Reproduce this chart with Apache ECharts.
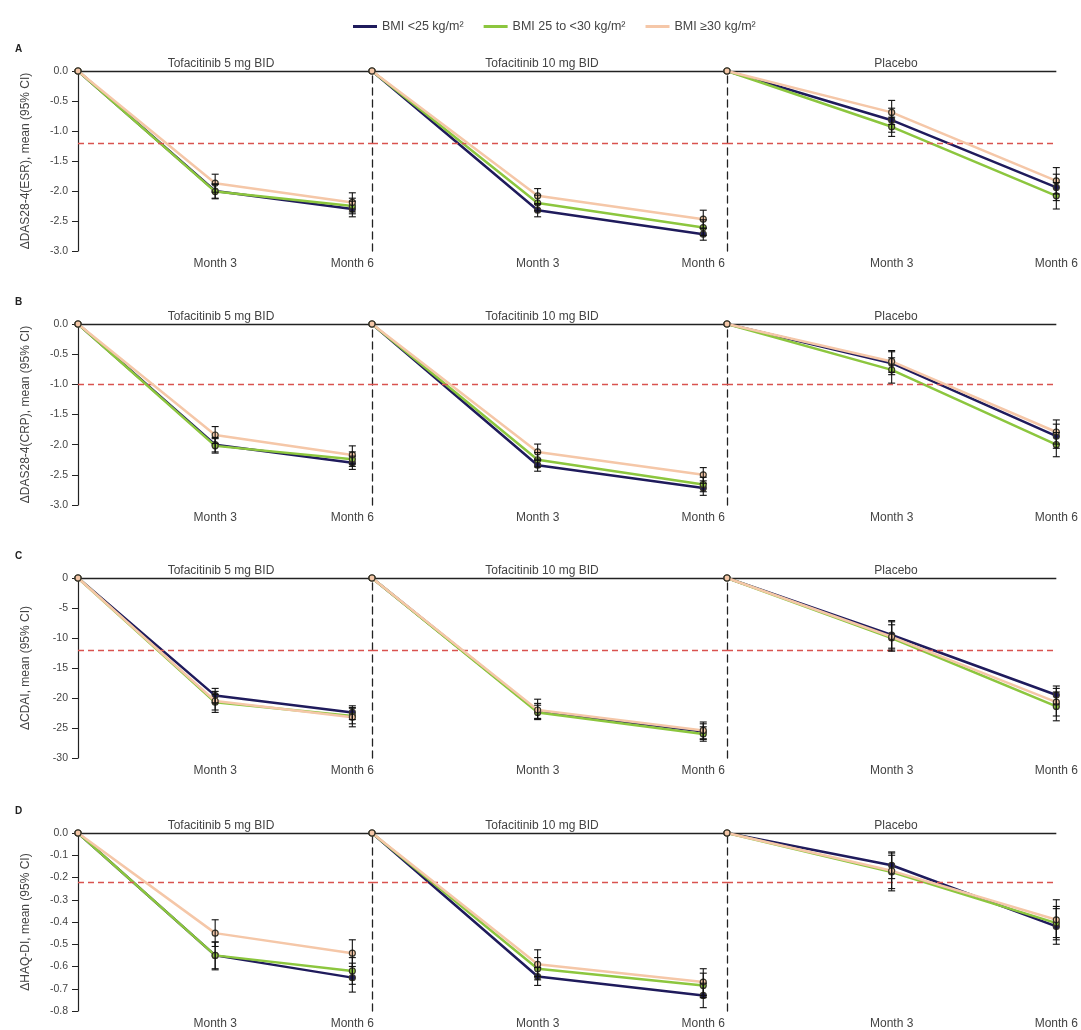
<!DOCTYPE html>
<html>
<head>
<meta charset="utf-8">
<script src="https://cdn.jsdelivr.net/npm/echarts@6/dist/echarts.min.js"></script>
<style>
html,body{margin:0;padding:0;background:#fff;}
#chart{width:1081px;height:1030px;}
</style>
</head>
<body>
<div id="chart"></div>
<script>
// ---------- DATA ----------
const MONTHS = [0, 3, 6];
const BASELINE = 0;
const ARMS = ['Tofacitinib 5 mg BID', 'Tofacitinib 10 mg BID', 'Placebo'];
const BMI_GROUPS = ['BMI <25 kg/m²', 'BMI 25 to <30 kg/m²', 'BMI ≥30 kg/m²'];
const PANEL_LETTERS = ['A', 'B', 'C', 'D'];
const Y_NAMES = ['ΔDAS28-4(ESR), mean (95% CI)', 'ΔDAS28-4(CRP), mean (95% CI)', 'ΔCDAI, mean (95% CI)', 'ΔHAQ-DI, mean (95% CI)'];
const Y_MIN = [-3, -3, -30, -0.8];
const Y_STEP = [0.5, 0.5, 5, 0.1];
const Y_DECIMALS = [1, 1, 0, 1];
const THRESHOLDS = [-1.2, -1.0, -12, -0.22];

// Each row: one BMI group; columns: 5 mg M3, 5 mg M6, 10 mg M3, 10 mg M6, Placebo M3, Placebo M6
const ESR_MEAN = [
  [-2.00, -2.30, -2.32, -2.72, -0.82, -1.94],
  [-2.01, -2.25, -2.20, -2.61, -0.93, -2.08],
  [-1.87, -2.19, -2.08, -2.47, -0.69, -1.83]
];
const ESR_LO = [
  [-2.12, -2.43, -2.43, -2.82, -1.02, -2.16],
  [-2.13, -2.38, -2.33, -2.74, -1.09, -2.30],
  [-2.02, -2.35, -2.22, -2.62, -0.89, -2.05]
];
const ESR_HI = [
  [-1.88, -2.17, -2.21, -2.62, -0.62, -1.72],
  [-1.89, -2.12, -2.07, -2.48, -0.77, -1.86],
  [-1.72, -2.03, -1.96, -2.32, -0.49, -1.61]
];

const CRP_MEAN = [
  [-2.00, -2.30, -2.34, -2.72, -0.65, -1.86],
  [-2.02, -2.24, -2.25, -2.66, -0.76, -2.00],
  [-1.84, -2.17, -2.12, -2.50, -0.62, -1.79]
];
const CRP_LO = [
  [-2.12, -2.41, -2.44, -2.84, -0.84, -2.06],
  [-2.14, -2.36, -2.37, -2.78, -0.98, -2.20],
  [-1.98, -2.32, -2.26, -2.64, -0.80, -1.99]
];
const CRP_HI = [
  [-1.88, -2.19, -2.24, -2.60, -0.46, -1.66],
  [-1.90, -2.12, -2.13, -2.54, -0.56, -1.80],
  [-1.70, -2.02, -1.99, -2.38, -0.44, -1.59]
];

const CDAI_MEAN = [
  [-19.6, -22.4, -22.2, -25.6, -9.5, -19.5],
  [-20.7, -23.0, -22.4, -26.0, -10.0, -21.4],
  [-20.5, -23.2, -22.0, -25.4, -9.8, -20.7]
];
const CDAI_LO = [
  [-20.8, -23.6, -23.5, -26.9, -11.7, -21.0],
  [-22.0, -24.3, -23.6, -27.2, -12.2, -23.8],
  [-22.4, -24.8, -23.4, -26.8, -12.0, -23.0]
];
const CDAI_HI = [
  [-18.4, -21.3, -20.9, -24.3, -7.3, -18.0],
  [-19.4, -21.7, -21.2, -24.8, -7.8, -19.0],
  [-18.9, -21.6, -20.2, -24.0, -7.1, -18.4]
];

const HAQ_MEAN = [
  [-0.55, -0.65, -0.645, -0.73, -0.145, -0.42],
  [-0.55, -0.62, -0.61, -0.685, -0.175, -0.405],
  [-0.45, -0.54, -0.59, -0.67, -0.17, -0.39]
];
const HAQ_LO = [
  [-0.61, -0.715, -0.685, -0.785, -0.205, -0.50],
  [-0.615, -0.68, -0.66, -0.74, -0.25, -0.48],
  [-0.51, -0.60, -0.645, -0.73, -0.26, -0.47]
];
const HAQ_HI = [
  [-0.49, -0.585, -0.605, -0.675, -0.085, -0.34],
  [-0.49, -0.56, -0.56, -0.63, -0.10, -0.33],
  [-0.39, -0.48, -0.525, -0.61, -0.09, -0.30]
];

const OUTCOME_MEAN = [ESR_MEAN, CRP_MEAN, CDAI_MEAN, HAQ_MEAN];
const OUTCOME_LO = [ESR_LO, CRP_LO, CDAI_LO, HAQ_LO];
const OUTCOME_HI = [ESR_HI, CRP_HI, CDAI_HI, HAQ_HI];

// ---------- STYLE / LAYOUT ----------
const COLORS = ['#1f1b5c', '#8cc63e', '#f5c7a8'];
const FONT = "'Liberation Sans', Arial, sans-serif";
const TXT = '#444';
const ROW_TOP = [71, 324, 578, 833];
const ROW_H = [180, 181, 180, 179];
const PANEL_LEFT = [78, 372, 727];
const PANEL_W = [294, 355, 331];
const PANEL_XMAX = [6.43, 6.43, 6];
const PANEL_TITLE_X = [216, 537, 891];

const grids = [], xAxes = [], yAxes = [], series = [], titles = [];

for (let r = 0; r < 4; r++) {
  titles.push({
    text: PANEL_LETTERS[r], left: 10, top: ROW_TOP[r] - 32,
    textStyle: {fontSize: 10, fontWeight: 'bold', color: '#222', fontFamily: FONT}
  });
  for (let p = 0; p < 3; p++) {
    const gi = r * 3 + p;
    grids.push({left: PANEL_LEFT[p], top: ROW_TOP[r], width: PANEL_W[p], height: ROW_H[r], containLabel: false});
    titles.push({
      text: ARMS[p], left: PANEL_TITLE_X[p], top: ROW_TOP[r] - 18, textAlign: 'center',
      textStyle: {fontSize: 12, fontWeight: 'normal', color: TXT, fontFamily: FONT}
    });
    xAxes.push({
      type: 'value', gridIndex: gi, min: 0, max: PANEL_XMAX[p],
      axisLine: {show: false}, axisTick: {show: false}, splitLine: {show: false},
      axisLabel: {
        customValues: [MONTHS[1], MONTHS[2]],
        formatter: v => 'Month ' + v,
        fontSize: 12, color: TXT, fontFamily: FONT, margin: 7
      }
    });
    const dec = Y_DECIMALS[r];
    yAxes.push({
      type: 'value', gridIndex: gi, min: Y_MIN[r], max: 0, interval: Y_STEP[r],
      splitLine: {show: false},
      axisLine: {show: true, onZero: false, lineStyle: {color: '#222', width: p === 0 ? 1.2 : 1.3, type: p === 0 ? 'solid' : [7, 5]}},
      axisTick: {show: p === 0, length: 6, lineStyle: {color: '#222', width: 1}},
      axisLabel: {show: p === 0, fontSize: 10.5, color: TXT, fontFamily: FONT, margin: 10,
        formatter: v => (Math.abs(v) < 1e-9 ? 0 : v).toFixed(dec)},
      name: p === 0 ? Y_NAMES[r] : '',
      nameLocation: 'middle', nameGap: 46, nameRotate: 90,
      nameTextStyle: {fontSize: 12, color: TXT, fontFamily: FONT}
    });

    const means = OUTCOME_MEAN[r], los = OUTCOME_LO[r], his = OUTCOME_HI[r];
    for (let g = 0; g < 3; g++) {
      const data = [[MONTHS[0], BASELINE], [MONTHS[1], means[g][p * 2]], [MONTHS[2], means[g][p * 2 + 1]]];
      const s = {
        name: BMI_GROUPS[g], type: 'line', xAxisIndex: gi, yAxisIndex: gi,
        data: data, color: COLORS[g],
        lineStyle: {width: 2.5, color: COLORS[g]},
        symbol: 'circle', symbolSize: 6, showSymbol: true,
        itemStyle: {color: COLORS[g], borderColor: '#3b382c', borderWidth: 1.2},
        z: 3 + g, animation: false, silent: true
      };
      if (g === 0) {
        s.markLine = {
          silent: true, symbol: 'none', animation: false, label: {show: false},
          data: [
            {yAxis: 0, lineStyle: {color: '#222', width: 1.3, type: 'solid'}},
            {yAxis: THRESHOLDS[r], lineStyle: {color: '#d9534f', width: 1.3, type: [6, 4]}}
          ]
        };
      }
      series.push(s);
    }
    const ciData = [];
    for (let g = 0; g < 3; g++) {
      for (let i = 1; i <= 2; i++) {
        ciData.push([MONTHS[i], los[g][p * 2 + i - 1], his[g][p * 2 + i - 1]]);
      }
    }
    series.push({
      name: 'CI', type: 'custom', xAxisIndex: gi, yAxisIndex: gi, data: ciData,
      encode: {x: 0, y: [1, 2]}, z: 10, animation: false, silent: true,
      renderItem: (params, api) => {
        const x = api.value(0), lo = api.value(1), hi = api.value(2);
        const a = api.coord([x, hi]), b = api.coord([x, lo]);
        const w = 3.5, st = {stroke: '#111', lineWidth: 1.1};
        return {type: 'group', children: [
          {type: 'line', shape: {x1: a[0], y1: a[1], x2: b[0], y2: b[1]}, style: st},
          {type: 'line', shape: {x1: a[0] - w, y1: a[1], x2: a[0] + w, y2: a[1]}, style: st},
          {type: 'line', shape: {x1: b[0] - w, y1: b[1], x2: b[0] + w, y2: b[1]}, style: st}
        ]};
      }
    });
  }
}

const chart = echarts.init(document.getElementById('chart'), null, {renderer: 'canvas'});
chart.setOption({
  backgroundColor: '#fff',
  animation: false,
  textStyle: {fontFamily: FONT},
  title: titles,
  legend: {
    data: BMI_GROUPS, left: 348, top: 15, icon: 'rect', itemWidth: 24, itemHeight: 3, itemGap: 20,
    itemStyle: {borderWidth: 0},
    textStyle: {fontSize: 12.5, color: TXT, fontFamily: FONT}, selectedMode: false
  },
  grid: grids,
  xAxis: xAxes,
  yAxis: yAxes,
  series: series
});
</script>
</body>
</html>
